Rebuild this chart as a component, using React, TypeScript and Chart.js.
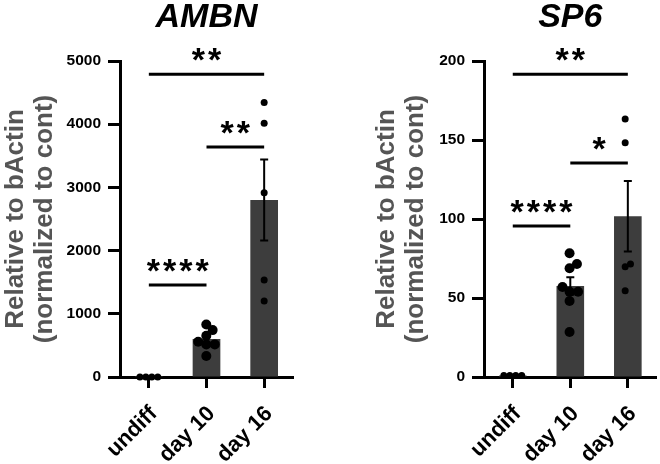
import React, { useEffect, useRef } from 'react';
import { Chart, registerables } from 'chart.js';
Chart.register(...registerables);

const FONT = '"Liberation Sans", Arial, Helvetica, sans-serif';

const categories = ['undiff', 'day 10', 'day 16'];

// AMBN
const ambnMeans = [1, 600, 2800];
const ambnSem = [0, 62, 640];
const ambnUndiff = [0, 0, 0, 0];
const ambnDay10 = [832, 742, 652, 557, 516, 516, 332];
const ambnDay16 = [4345, 4014, 2916, 1535, 1203];
const ambnSigFrom = [0, 1, 0];
const ambnSigTo = [2, 2, 1];
const ambnSigY = [4790, 3640, 1455];
const ambnSigLabel = ['**', '**', '****'];
const ambnYMax = 5000;
const ambnYStep = 1000;

// SP6
const sp6Means = [1, 57.6, 101.8];
const sp6Sem = [0, 5.5, 22.3];
const sp6Undiff = [1, 1, 1, 1];
const sp6Day10 = [78.3, 71.5, 68.8, 57, 54, 54, 48.1, 28.5];
const sp6Day16 = [163.3, 148.3, 71.5, 69.8, 54.6];
const sp6SigFrom = [0, 1, 0];
const sp6SigTo = [2, 2, 1];
const sp6SigY = [191.6, 135.4, 95.6];
const sp6SigLabel = ['**', '*', '****'];
const sp6YMax = 200;
const sp6YStep = 50;

const yTitle = ['Relative to bActin', '(normalized to cont)'];

function swarm(ys: number[], r: number): number[] {
  const d = 2 * r * 0.85;
  const order = ys.map((_, i) => i).sort((a, b) => ys[b] - ys[a]);
  const placed: { x: number; y: number }[] = [];
  const xs = new Array(ys.length).fill(0);
  for (const idx of order) {
    const y = ys[idx];
    const iv: number[][] = [];
    for (const p of placed) {
      const dy = Math.abs(p.y - y);
      if (dy < d) {
        const w = Math.sqrt(d * d - dy * dy);
        iv.push([p.x - w, p.x + w]);
      }
    }
    const cands = [0, ...iv.flat()].sort((a, b) => Math.abs(a) - Math.abs(b) || b - a);
    let x = 0;
    for (const c of cands) {
      if (iv.every(([a, b]) => c <= a + 1e-6 || c >= b - 1e-6)) {
        x = c;
        break;
      }
    }
    xs[idx] = x;
    placed.push({ x, y });
  }
  const mn = Math.min(...xs);
  const mx = Math.max(...xs);
  return xs.map((x) => x - (mn + mx) / 2);
}

interface Cfg {
  title: string;
  means: number[];
  sem: number[];
  groups: number[][];
  radii: number[];
  sigFrom: number[];
  sigTo: number[];
  sigY: number[];
  sigLabel: string[];
  yMax: number;
  yStep: number;
  padLeft: number;
  padRight: number;
  yWidth: number;
}

function makePlugin(cfg: Cfg) {
  return {
    id: 'extras',
    afterDatasetsDraw(chart: any) {
      const ctx = chart.ctx;
      const xs = chart.scales.x;
      const ys = chart.scales.y;
      ctx.save();
      ctx.strokeStyle = '#000';
      ctx.lineWidth = 2;
      cfg.means.forEach((m, i) => {
        const s = cfg.sem[i];
        if (!s) return;
        const cx = xs.getPixelForValue(i);
        const top = ys.getPixelForValue(m + s);
        const bot = ys.getPixelForValue(m - s);
        ctx.beginPath();
        ctx.moveTo(cx, top);
        ctx.lineTo(cx, bot);
        ctx.moveTo(cx - 4, top);
        ctx.lineTo(cx + 4, top);
        ctx.moveTo(cx - 4, bot);
        ctx.lineTo(cx + 4, bot);
        ctx.stroke();
      });
      ctx.fillStyle = '#000';
      cfg.groups.forEach((vals, i) => {
        const r = cfg.radii[i];
        const py = vals.map((v) => ys.getPixelForValue(v));
        const off = swarm(py, r);
        const cx = xs.getPixelForValue(i);
        py.forEach((p, k) => {
          ctx.beginPath();
          ctx.arc(cx + off[k], p, r, 0, Math.PI * 2);
          ctx.fill();
        });
      });
      ctx.restore();
    },
    afterDraw(chart: any) {
      const ctx = chart.ctx;
      const xs = chart.scales.x;
      const ys = chart.scales.y;
      const area = chart.chartArea;
      ctx.save();
      ctx.strokeStyle = '#000';
      ctx.fillStyle = '#000';
      ctx.lineWidth = 3;
      ctx.font = `bold 34px ${FONT}`;
      (ctx as any).letterSpacing = '3px';
      ctx.textAlign = 'center';
      ctx.textBaseline = 'alphabetic';
      cfg.sigY.forEach((v, k) => {
        const x1 = xs.getPixelForValue(cfg.sigFrom[k]);
        const x2 = xs.getPixelForValue(cfg.sigTo[k]);
        const y = ys.getPixelForValue(v);
        ctx.beginPath();
        ctx.moveTo(x1, y);
        ctx.lineTo(x2, y);
        ctx.stroke();
        const m = ctx.measureText(cfg.sigLabel[k]);
        const base = y - 13 - m.actualBoundingBoxDescent;
        ctx.fillText(cfg.sigLabel[k], (x1 + x2) / 2 + 1.5, base);
      });
      (ctx as any).letterSpacing = '0px';
      ctx.font = `italic bold 34px ${FONT}`;
      ctx.textAlign = 'center';
      ctx.textBaseline = 'alphabetic';
      ctx.fillText(cfg.title, (area.left + area.right) / 2, 27);
      ctx.restore();
    },
  };
}

function Panel({ cfg }: { cfg: Cfg }) {
  const ref = useRef<HTMLCanvasElement>(null);
  useEffect(() => {
    const gridCommon = {
      display: true,
      drawOnChartArea: false,
      drawTicks: true,
      tickWidth: 3,
      tickColor: '#000',
      offset: false,
    };
    const chart = new Chart(ref.current as HTMLCanvasElement, {
      type: 'bar',
      data: {
        labels: categories,
        datasets: [
          {
            data: cfg.means,
            backgroundColor: '#3d3d3d',
            borderWidth: 0,
            barPercentage: 0.48,
            categoryPercentage: 1,
          },
        ],
      },
      options: {
        responsive: false,
        animation: false,
        layout: { padding: { left: cfg.padLeft, right: cfg.padRight, top: 61, bottom: 0 } },
        plugins: { legend: { display: false }, tooltip: { enabled: false }, title: { display: false } },
        scales: {
          x: {
            grid: { ...gridCommon, tickLength: 11 },
            border: { display: true, width: 3, color: '#000' },
            ticks: {
              color: '#000',
              font: { family: FONT, size: 22, weight: 'bold' },
              maxRotation: 45,
              minRotation: 45,
              padding: 13,
              labelOffset: 5,
            },
            afterFit: (s: any) => {
              s.height = 87;
            },
          },
          y: {
            min: 0,
            max: cfg.yMax,
            ticks: {
              stepSize: cfg.yStep,
              color: '#000',
              font: { family: FONT, size: 15.5, weight: 'bold' },
              padding: 7,
              callback: (v: any) => String(v),
            },
            grid: { ...gridCommon, tickLength: 12 },
            border: { display: true, width: 3, color: '#000' },
            title: {
              display: true,
              text: yTitle,
              color: '#555555',
              font: { family: FONT, size: 26, weight: 'bold', lineHeight: 1.12 },
              padding: { top: 1, bottom: 0 },
            },
            afterFit: (s: any) => {
              s.width = cfg.yWidth;
            },
          },
        },
      } as any,
      plugins: [makePlugin(cfg)],
    });
    return () => chart.destroy();
  }, [cfg]);
  return <canvas ref={ref} width={330} height={464} style={{ display: 'block', width: 330, height: 464 }} />;
}

const ambnCfg: Cfg = {
  title: 'AMBN',
  means: ambnMeans,
  sem: ambnSem,
  groups: [ambnUndiff, ambnDay10, ambnDay16],
  radii: [3.5, 5, 3.5],
  sigFrom: ambnSigFrom,
  sigTo: ambnSigTo,
  sigY: ambnSigY,
  sigLabel: ambnSigLabel,
  yMax: ambnYMax,
  yStep: ambnYStep,
  padLeft: 0,
  padRight: 37,
  yWidth: 120,
};

const sp6Cfg: Cfg = {
  title: 'SP6',
  means: sp6Means,
  sem: sp6Sem,
  groups: [sp6Undiff, sp6Day10, sp6Day16],
  radii: [3.5, 5, 3.5],
  sigFrom: sp6SigFrom,
  sigTo: sp6SigTo,
  sigY: sp6SigY,
  sigLabel: sp6SigLabel,
  yMax: sp6YMax,
  yStep: sp6YStep,
  padLeft: 41,
  padRight: 3,
  yWidth: 113,
};

export default function App() {
  return (
    <div style={{ position: 'fixed', left: 0, top: 0, width: 660, height: 464, display: 'flex', background: '#fff' }}>
      <Panel cfg={ambnCfg} />
      <Panel cfg={sp6Cfg} />
    </div>
  );
}
